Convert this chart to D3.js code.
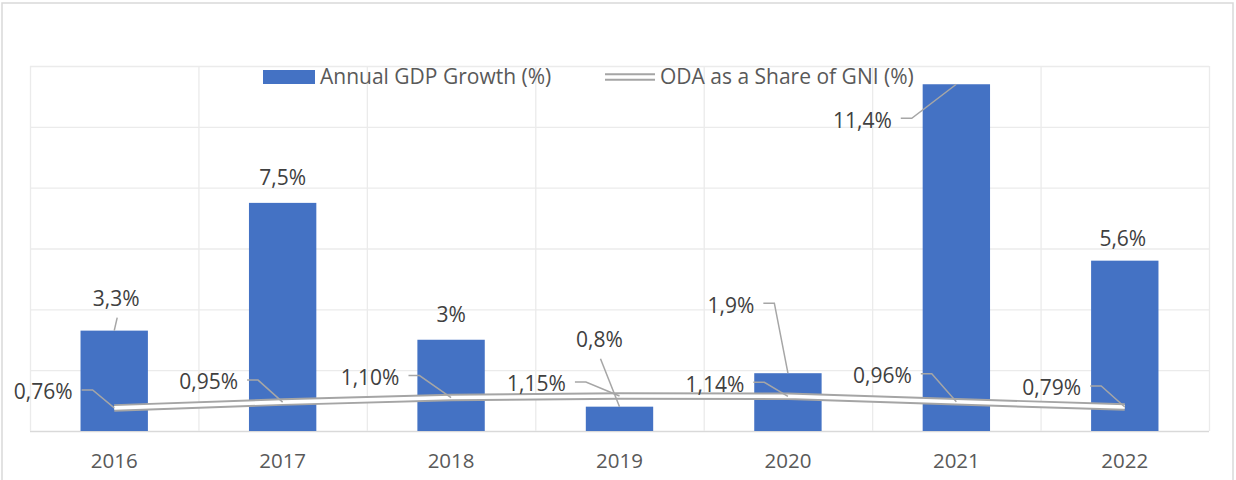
<!DOCTYPE html>
<html>
<head>
<meta charset="utf-8">
<script src="https://cdn.jsdelivr.net/npm/d3@7"></script>
<style>
    body { margin: 0; background: #fff; }
    #chart { width: 1236px; height: 480px; }
    text { font-family: "Open Sans", sans-serif; }
</style>
</head>
<body>
<div id="chart"></div>
<script>
const years = ['2016', '2017', '2018', '2019', '2020', '2021', '2022'];
const gdpGrowth = [3.3, 7.5, 3.0, 0.8, 1.9, 11.4, 5.6];
const odaShare = [0.76, 0.95, 1.10, 1.15, 1.14, 0.96, 0.79];
const yTicks = [0, 2, 4, 6, 8, 10, 12];
const seriesNames = ['Annual GDP Growth (%)', 'ODA as a Share of GNI (%)'];

// label placement, offsets from the point the label belongs to (Excel-style dragged labels)
const gdpLabelPos = [
    { dx: 2, dy: -32, leader: 'below' },
    { dx: 0, dy: -25, leader: null },
    { dx: 0, dy: -25, leader: null },
    { dx: -20, dy: -67, leader: 'below' },
    { dx: -57, dy: -68, leader: 'side' },
    { dx: -94, dy: 36, leader: 'side' },
    { dx: -2, dy: -22, leader: null }
];
const odaLabelPos = [
    { dx: -71, dy: -16 },
    { dx: -74, dy: -20 },
    { dx: -81, dy: -20 },
    { dx: -83, dy: -12 },
    { dx: -73, dy: -12 },
    { dx: -74, dy: -26 },
    { dx: -73, dy: -19 }
];

const W = 1236, H = 480;
const plot = { left: 30, right: 1209, top: 66, bottom: 431 };
const barColor = '#4472C4';
const lineColor = '#A5A5A5';
const leaderColor = '#A6A6A6';
const labelSize = 21;

const svg = d3.select('#chart').append('svg')
    .attr('width', W)
    .attr('height', H);

// outer chart frame
svg.append('rect')
    .attr('x', 2).attr('y', 3)
    .attr('width', 1231).attr('height', 500)
    .attr('fill', 'none')
    .attr('stroke', '#D9D9D9')
    .attr('stroke-width', 1.5);

const x = d3.scaleBand()
    .domain(years)
    .range([plot.left, plot.right])
    .paddingInner(0.6)
    .paddingOuter(0.3);

const y = d3.scaleLinear()
    .domain([0, 12])
    .range([plot.bottom, plot.top]);

const cx = d => x(d) + x.bandwidth() / 2;
const step = x.step();

// gridlines
const grid = svg.append('g');
grid.selectAll('.hgrid')
    .data(yTicks)
    .enter().append('line')
    .attr('x1', plot.left).attr('x2', plot.right)
    .attr('y1', d => y(d) + 0.5).attr('y2', d => y(d) + 0.5)
    .attr('stroke', d => d === 0 ? '#D9D9D9' : '#EBEBEB')
    .attr('stroke-width', 1.3);

const boundaries = years.map(d => x(d) - step * 0.3).concat([plot.right]);
grid.selectAll('.vgrid')
    .data(boundaries)
    .enter().append('line')
    .attr('x1', d => d + 0.5).attr('x2', d => d + 0.5)
    .attr('y1', plot.top).attr('y2', plot.bottom)
    .attr('stroke', '#EBEBEB')
    .attr('stroke-width', 1.3);

// bars
svg.selectAll('.bar')
    .data(years)
    .enter().append('rect')
    .attr('x', d => x(d))
    .attr('y', (d, i) => y(gdpGrowth[i]))
    .attr('width', x.bandwidth())
    .attr('height', (d, i) => y(0) - y(gdpGrowth[i]))
    .attr('fill', barColor);

// x axis labels
svg.append('g')
    .attr('transform', `translate(0,${plot.bottom})`)
    .call(d3.axisBottom(x).tickSize(0).tickPadding(22))
    .call(g => g.select('.domain').remove())
    .call(g => g.selectAll('text')
        .attr('font-size', 20.5)
        .attr('font-family', '"Open Sans", sans-serif')
        .attr('fill', '#595959'));

// ODA double line
const line = d3.line()
    .x((d, i) => cx(years[i]))
    .y(d => y(d));

svg.append('path')
    .datum(odaShare)
    .attr('d', line)
    .attr('fill', 'none')
    .attr('stroke', lineColor)
    .attr('stroke-width', 7.5);
svg.append('path')
    .datum(odaShare)
    .attr('d', line)
    .attr('fill', 'none')
    .attr('stroke', '#fff')
    .attr('stroke-width', 3.6);

const fmtGdp = v => String(v).replace('.', ',') + '%';
const fmtOda = v => v.toFixed(2).replace('.', ',') + '%';

function drawLabel(px, py, pos, text, leaderType) {
    const lx = px + pos.dx, ly = py + pos.dy;
    const t = svg.append('text')
        .attr('x', lx).attr('y', ly)
        .attr('dy', '0.35em')
        .attr('text-anchor', 'middle')
        .attr('font-size', labelSize)
        .attr('fill', '#404040')
        .text(text);
    const w = t.node().getComputedTextLength();
    let pts = null;
    if (leaderType === 'side') {
        const sx = lx + w / 2 + 9;
        const sy = ly - 2;
        pts = [[sx, sy], [sx + 11, sy], [px, py]];
    } else if (leaderType === 'below') {
        pts = [[lx + 1, ly + 19], [px, py]];
    }
    if (pts) {
        svg.append('path')
            .attr('d', d3.line()(pts))
            .attr('fill', 'none')
            .attr('stroke', leaderColor)
            .attr('stroke-width', 1.5);
    }
}

years.forEach((yr, i) => {
    drawLabel(cx(yr), y(gdpGrowth[i]), gdpLabelPos[i], fmtGdp(gdpGrowth[i]), gdpLabelPos[i].leader);
});
years.forEach((yr, i) => {
    drawLabel(cx(yr), y(odaShare[i]), odaLabelPos[i], fmtOda(odaShare[i]), 'side');
});

// legend
const legend = svg.append('g').attr('transform', 'translate(263,77)');
legend.append('rect')
    .attr('x', 0).attr('y', -7)
    .attr('width', 52).attr('height', 14)
    .attr('fill', barColor);
legend.append('text')
    .attr('x', 57).attr('dy', '0.35em')
    .attr('font-size', labelSize)
    .attr('fill', '#595959')
    .text(seriesNames[0]);
legend.append('line')
    .attr('x1', 342).attr('x2', 392)
    .attr('stroke', lineColor).attr('stroke-width', 7.5);
legend.append('line')
    .attr('x1', 342).attr('x2', 392)
    .attr('stroke', '#fff').attr('stroke-width', 3.6);
legend.append('text')
    .attr('x', 397).attr('dy', '0.35em')
    .attr('font-size', labelSize)
    .attr('fill', '#595959')
    .text(seriesNames[1]);
</script>
</body>
</html>
